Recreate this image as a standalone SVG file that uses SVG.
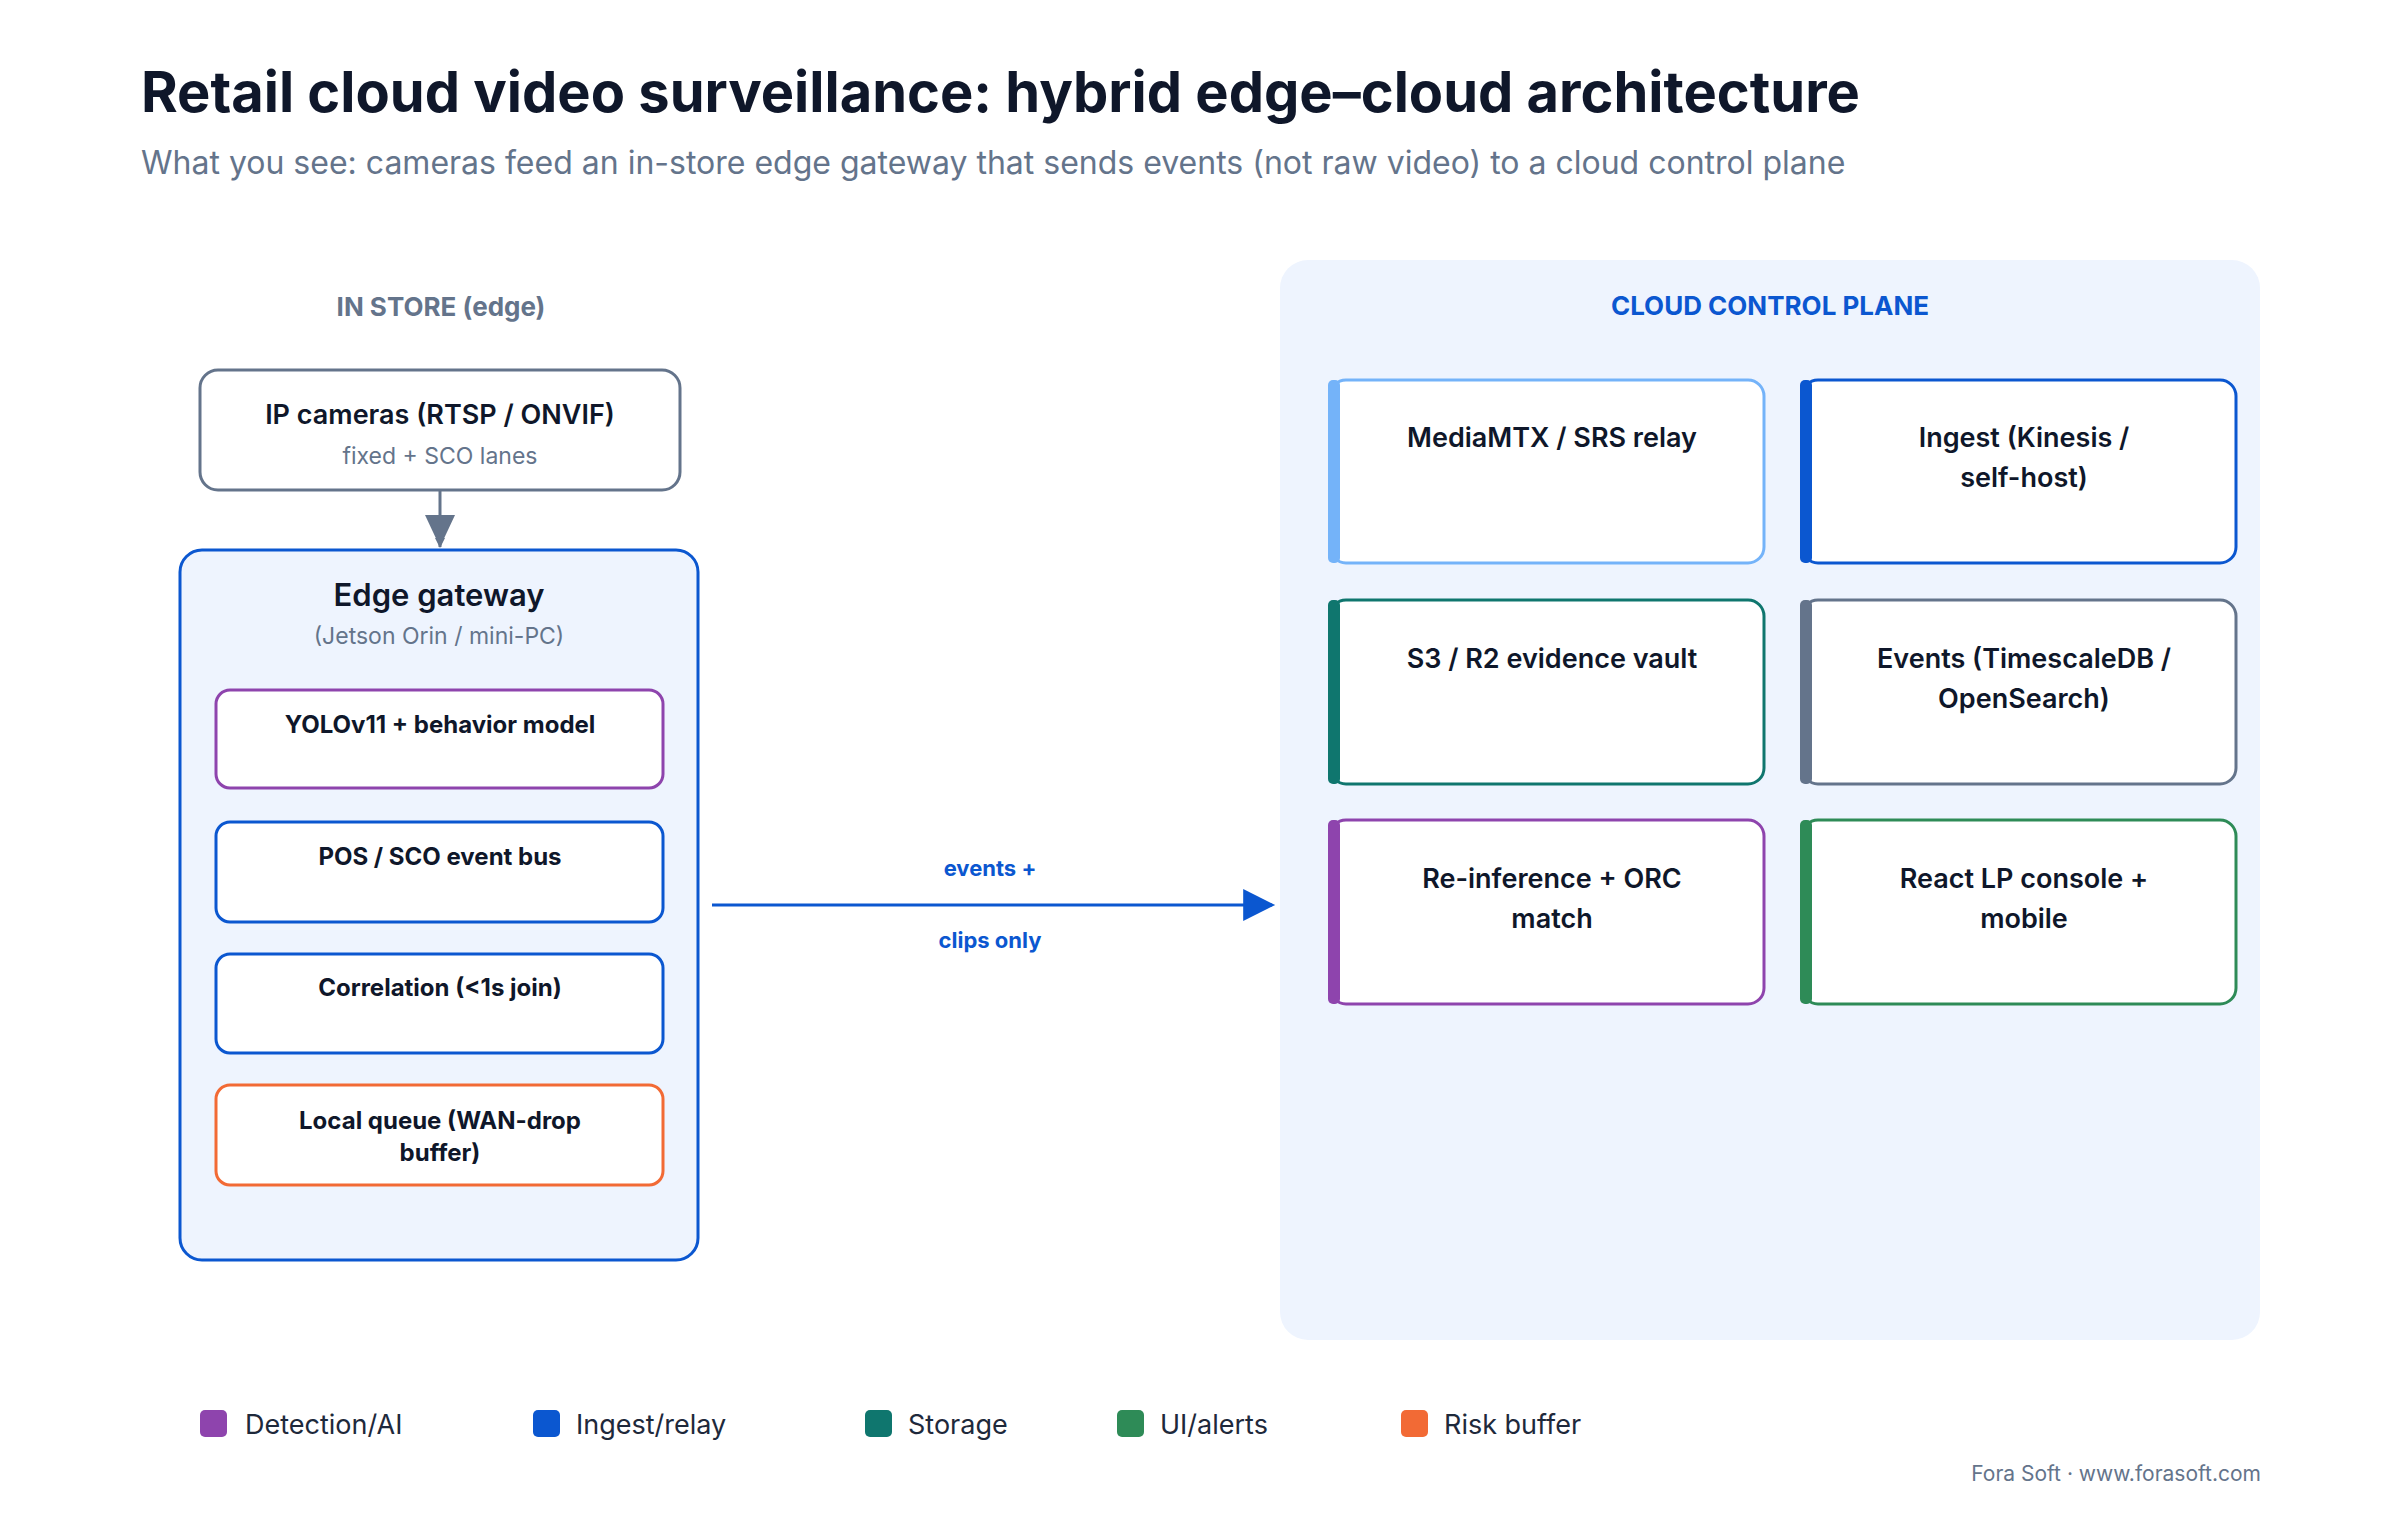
<svg xmlns="http://www.w3.org/2000/svg" width="2400" height="1520" viewBox="0 0 2400 1520">
<defs>
<style>
text{font-family:Inter,"Noto Sans","Liberation Sans",sans-serif}
.t{font-size:27px;font-weight:600;fill:#0f172a;text-anchor:middle}
.s{font-size:23px;fill:#64748b;text-anchor:middle}
.in{font-size:24px;font-weight:700;fill:#0f172a;text-anchor:middle}
.card{fill:#fff;stroke-width:3}
.lg{font-size:27px;fill:#1e293b}
</style>
<marker id="ag" markerWidth="10" markerHeight="10" refX="9" refY="5" orient="auto" markerUnits="userSpaceOnUse" viewBox="0 0 10 10"><path d="M0,0 L10,5 L0,10z" fill="#64748b"/></marker>
<marker id="ab" viewBox="0 0 10 10" refX="9" refY="5" markerWidth="34" markerHeight="32" orient="auto" markerUnits="userSpaceOnUse"><path d="M0,0 L10,5 L0,10z" fill="#0b57d0"/></marker>
</defs>
<rect width="2400" height="1520" fill="#fff"/>
<text x="141" y="112" font-size="56" font-weight="700" fill="#0f172a">Retail cloud video surveillance: hybrid edge–cloud architecture</text>
<text x="141" y="174" font-size="32" fill="#64748b">What you see: cameras feed an in-store edge gateway that sends events (not raw video) to a cloud control plane</text>

<text x="441" y="316" font-size="26" font-weight="700" fill="#64748b" text-anchor="middle">IN STORE (edge)</text>

<g id="cameras">
<rect x="200" y="370" width="480" height="120" rx="18" class="card" stroke="#64748b"/>
<text x="440" y="424" class="t">IP cameras (RTSP / ONVIF)</text>
<text x="440" y="464" class="s">fixed + SCO lanes</text>
</g>

<g id="edge-gateway">
<rect x="180" y="550" width="518" height="710" rx="22" fill="#eef4fe" stroke="#0b57d0" stroke-width="3"/>
<text x="439" y="606" font-size="31" font-weight="600" fill="#0f172a" text-anchor="middle">Edge gateway</text>
<text x="439" y="644" class="s">(Jetson Orin / mini-PC)</text>
</g>
<g id="yolo"><rect x="216" y="690" width="447" height="98" rx="14" class="card" stroke="#8e44ad"/><text x="440" y="733" class="in">YOLOv11 + behavior model</text></g>
<g id="pos"><rect x="216" y="822" width="447" height="100" rx="14" class="card" stroke="#0b57d0"/><text x="440" y="865" class="in">POS / SCO event bus</text></g>
<g id="correlation"><rect x="216" y="954" width="447" height="99" rx="14" class="card" stroke="#0b57d0"/><text x="440" y="996" class="in">Correlation (&lt;1s join)</text></g>
<g id="queue"><rect x="216" y="1085" width="447" height="100" rx="14" class="card" stroke="#f26a35"/><text x="440" y="1129" class="in">Local queue (WAN-drop</text><text x="440" y="1161" class="in">buffer)</text></g>

<g id="cloud-panel">
<rect x="1280" y="260" width="980" height="1080" rx="28" fill="#eef4fe"/>
<text x="1770" y="315" font-size="26" font-weight="700" fill="#0b57d0" text-anchor="middle">CLOUD CONTROL PLANE</text>
</g>
<g id="mediamtx"><rect x="1330" y="380" width="434" height="183" rx="16" class="card" stroke="#74b3f9"/><rect x="1328" y="380" width="12" height="183" rx="5" fill="#74b3f9"/><text x="1552" y="447" class="t">MediaMTX / SRS relay</text></g>
<g id="ingest"><rect x="1802" y="380" width="434" height="183" rx="16" class="card" stroke="#0b57d0"/><rect x="1800" y="380" width="12" height="183" rx="5" fill="#0b57d0"/><text x="2024" y="447" class="t">Ingest (Kinesis /</text><text x="2024" y="487" class="t">self-host)</text></g>
<g id="s3"><rect x="1330" y="600" width="434" height="184" rx="16" class="card" stroke="#0f766e"/><rect x="1328" y="600" width="12" height="184" rx="5" fill="#0f766e"/><text x="1552" y="668" class="t">S3 / R2 evidence vault</text></g>
<g id="events"><rect x="1802" y="600" width="434" height="184" rx="16" class="card" stroke="#64748b"/><rect x="1800" y="600" width="12" height="184" rx="5" fill="#64748b"/><text x="2024" y="668" class="t">Events (TimescaleDB /</text><text x="2024" y="708" class="t">OpenSearch)</text></g>
<g id="reinference"><rect x="1330" y="820" width="434" height="184" rx="16" class="card" stroke="#8e44ad"/><rect x="1328" y="820" width="12" height="184" rx="5" fill="#8e44ad"/><text x="1552" y="888" class="t">Re-inference + ORC</text><text x="1552" y="928" class="t">match</text></g>
<g id="console"><rect x="1802" y="820" width="434" height="184" rx="16" class="card" stroke="#2e8b57"/><rect x="1800" y="820" width="12" height="184" rx="5" fill="#2e8b57"/><text x="2024" y="888" class="t">React LP console +</text><text x="2024" y="928" class="t">mobile</text></g>

<g id="connectors">
<line x1="440" y1="490" x2="440" y2="547" stroke="#64748b" stroke-width="3" marker-end="url(#ag)"/>
<path d="M425,515 L455,515 L440,547z" fill="#64748b"/>
<line x1="712" y1="905" x2="1272" y2="905" stroke="#0b57d0" stroke-width="3" marker-end="url(#ab)"/>
<text x="990" y="876" font-size="22" font-weight="700" fill="#0b57d0" text-anchor="middle">events +</text>
<text x="990" y="948" font-size="22" font-weight="700" fill="#0b57d0" text-anchor="middle">clips only</text>
</g>

<g id="legend">
<rect x="200" y="1410" width="27" height="27" rx="5" fill="#8e44ad"/><text x="245" y="1434" class="lg">Detection/AI</text>
<rect x="533" y="1410" width="27" height="27" rx="5" fill="#0b57d0"/><text x="576" y="1434" class="lg">Ingest/relay</text>
<rect x="865" y="1410" width="27" height="27" rx="5" fill="#0f766e"/><text x="908" y="1434" class="lg">Storage</text>
<rect x="1117" y="1410" width="27" height="27" rx="5" fill="#2e8b57"/><text x="1160" y="1434" class="lg">UI/alerts</text>
<rect x="1401" y="1410" width="27" height="27" rx="5" fill="#f26a35"/><text x="1444" y="1434" class="lg">Risk buffer</text>
</g>
<text x="2261" y="1481" font-size="21" fill="#64748b" text-anchor="end">Fora Soft · www.forasoft.com</text>
</svg>
